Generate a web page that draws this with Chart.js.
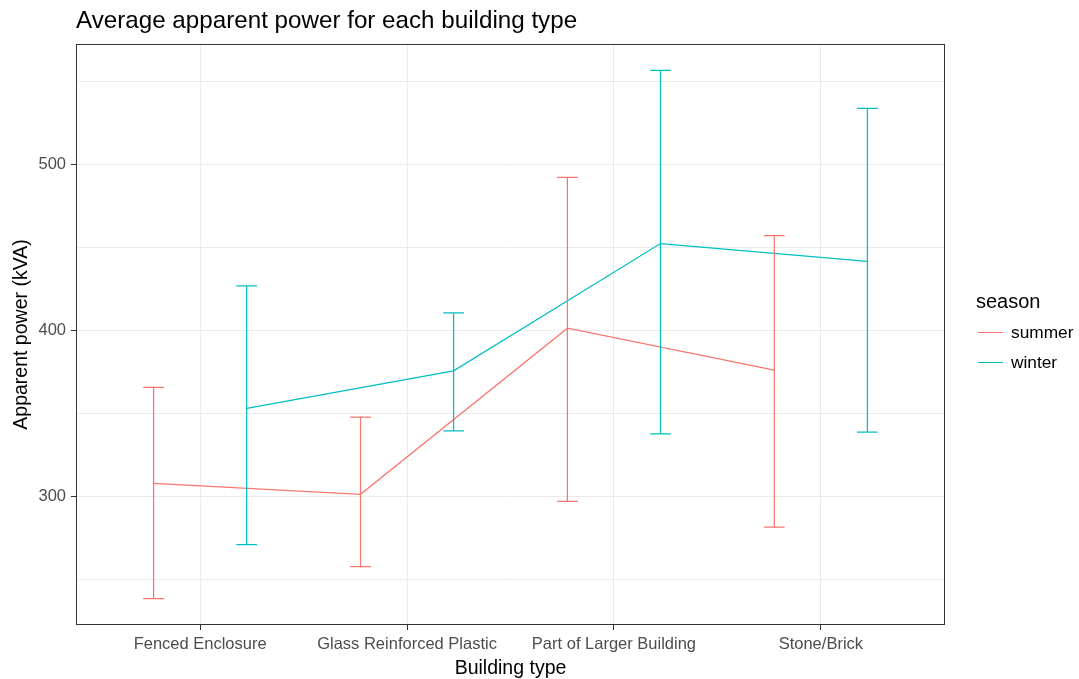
<!DOCTYPE html>
<html>
<head>
<meta charset="utf-8">
<script src="https://cdn.jsdelivr.net/npm/chart.js@4"></script>
<style>
  html, body { margin: 0; padding: 0; background: #ffffff; }
  #wrap { position: relative; width: 1079px; height: 679px; font-family: "Liberation Sans", Arial, sans-serif; }
  #chart { position: absolute; left: 0; top: 0; }
  #title { position: absolute; left: 76px; top: 8px; font-size: 24.2px; line-height: 24px; color: #000; white-space: nowrap; }
  #legend { position: absolute; left: 976px; top: 289px; color: #000; }
  #legend .head { font-size: 20px; line-height: 24px; margin-bottom: 6px; white-space: nowrap; }
  #legend .item { position: relative; height: 30px; white-space: nowrap; }
  #legend .key { position: absolute; left: 2px; top: 13px; width: 25px; height: 0; border-top: 1.3px solid; }
  #legend .lab { position: absolute; left: 35px; top: 3px; font-size: 17.3px; line-height: 20px; }
</style>
</head>
<body>
<div id="wrap">
  <canvas id="chart" width="1079" height="679"></canvas>
  <div id="title">Average apparent power for each building type</div>
  <div id="legend">
    <div class="head">season</div>
    <div class="item"><span class="key" style="border-color:#F8766D"></span><span class="lab">summer</span></div>
    <div class="item"><span class="key" style="border-color:#00BFC4"></span><span class="lab">winter</span></div>
  </div>
</div>
<script>
// Building types on the x axis
const categories = ['Fenced Enclosure', 'Glass Reinforced Plastic', 'Part of Larger Building', 'Stone/Brick'];

// Mean apparent power (kVA) and interval bounds per season
const summerMean  = [307.6, 301.0, 401.1, 375.8];
const summerLower = [238.2, 257.4, 296.8, 281.3];
const summerUpper = [365.4, 347.5, 492.0, 456.9];

const winterMean  = [352.8, 375.4, 452.1, 441.3];
const winterLower = [270.7, 339.3, 337.5, 338.5];
const winterUpper = [426.6, 410.3, 556.4, 533.5];

// Labelled y ticks and the full set of horizontal grid lines
const yTickLabels = [300, 400, 500];
const yGridValues = [250, 300, 350, 400, 450, 500, 550];

const SUMMER = '#F8766D';
const WINTER = '#00BFC4';
const DODGE = 0.225;     // horizontal shift of each season around its category
const CAP = 0.05;        // half-width of the error bar caps
const FONT = '"Liberation Sans", Arial, sans-serif';

function meanPoints(values, shift) {
  return values.map((v, i) => ({ x: i + 1 + shift, y: v }));
}

// Error bars as one broken polyline: top cap, stem, bottom cap per category
function errorBarPoints(lower, upper, shift) {
  const pts = [];
  lower.forEach((lo, i) => {
    const hi = upper[i];
    const cx = i + 1 + shift;
    pts.push({ x: cx - CAP, y: hi }, { x: cx + CAP, y: hi }, { x: cx, y: null });
    pts.push({ x: cx, y: hi }, { x: cx, y: lo }, { x: cx, y: null });
    pts.push({ x: cx - CAP, y: lo }, { x: cx + CAP, y: lo }, { x: cx, y: null });
  });
  return pts;
}

function lineSet(label, data, color, order) {
  return {
    label, data, order,
    borderColor: color, backgroundColor: color,
    borderWidth: 1.25, pointRadius: 0, pointHoverRadius: 0,
    tension: 0, spanGaps: false, fill: false
  };
}

// Full rectangle around the panel, drawn over the data
const panelBorder = {
  id: 'panelBorder',
  afterDraw(chart) {
    const { ctx, chartArea: a } = chart;
    ctx.save();
    ctx.strokeStyle = '#333333';
    ctx.lineWidth = 1;
    ctx.strokeRect(Math.round(a.left) + 0.5, Math.round(a.top) + 0.5,
                   Math.round(a.right - a.left) - 1, Math.round(a.bottom - a.top) - 1);
    ctx.restore();
  }
};

new Chart(document.getElementById('chart'), {
  type: 'line',
  data: {
    datasets: [
      lineSet('summer', meanPoints(summerMean, -DODGE), SUMMER, 4),
      lineSet('winter', meanPoints(winterMean, DODGE), WINTER, 3),
      lineSet('summer interval', errorBarPoints(summerLower, summerUpper, -DODGE), SUMMER, 2),
      lineSet('winter interval', errorBarPoints(winterLower, winterUpper, DODGE), WINTER, 1)
    ]
  },
  options: {
    responsive: false,
    devicePixelRatio: 1,
    animation: false,
    parsing: true,
    layout: { padding: { left: 0, top: 44, right: 134, bottom: 0 } },
    plugins: { legend: { display: false }, tooltip: { enabled: false }, title: { display: false } },
    scales: {
      x: {
        type: 'linear',
        min: 0.4, max: 4.6,
        afterBuildTicks(scale) { scale.ticks = categories.map((_, i) => ({ value: i + 1 })); },
        afterFit(scale) { scale.height = 54; },
        ticks: {
          autoSkip: false, maxRotation: 0, padding: 5,
          color: '#4d4d4d', font: { family: FONT, size: 16.5 },
          callback: (v) => categories[Math.round(v) - 1] || ''
        },
        grid: { color: '#ebebeb', lineWidth: 1, tickLength: 5, tickColor: '#333333', drawTicks: true },
        border: { display: false },
        title: { display: true, text: 'Building type', color: '#000', font: { family: FONT, size: 19.5 }, padding: { top: 0, bottom: -1 } }
      },
      y: {
        type: 'linear',
        min: 222.3, max: 572.3,
        afterBuildTicks(scale) { scale.ticks = yGridValues.map(v => ({ value: v })); },
        afterFit(scale) { scale.width = 76; },
        ticks: {
          autoSkip: false, padding: 5,
          color: '#4d4d4d', font: { family: FONT, size: 16.5 },
          callback: (v) => yTickLabels.includes(v) ? String(v) : ''
        },
        grid: {
          color: '#ebebeb', lineWidth: 1, tickLength: 5,
          tickColor: (ctx) => (ctx.tick && yTickLabels.includes(ctx.tick.value)) ? '#333333' : 'rgba(0,0,0,0)'
        },
        border: { display: false },
        title: { display: true, text: 'Apparent power (kVA)', color: '#000', font: { family: FONT, size: 19.5 }, padding: { top: 10, bottom: 0 } }
      }
    }
  },
  plugins: [panelBorder]
});
</script>
</body>
</html>
